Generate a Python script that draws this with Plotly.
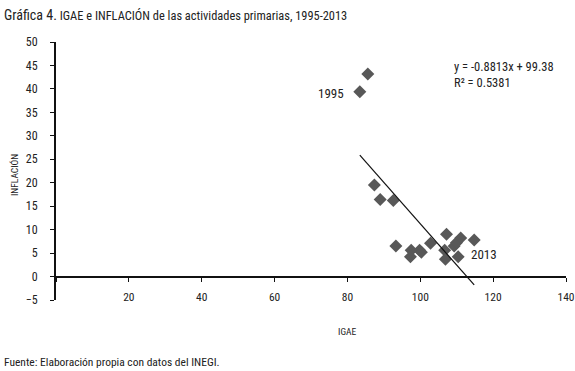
import plotly.graph_objects as go

igae = [83.4, 85.6, 87.4, 89.0, 92.6, 93.3, 97.5, 97.3, 99.8, 100.3,
        102.8, 107.2, 106.7, 106.9, 109.3, 109.9, 111.1, 110.4, 114.8]
inflacion = [39.4, 43.2, 19.5, 16.4, 16.2, 6.5, 5.6, 4.2, 5.6, 5.2,
             7.1, 9.0, 5.6, 3.7, 6.5, 7.2, 8.2, 4.2, 7.8]
slope, intercept, r2 = -0.8813, 99.38, 0.5381
x_ticks = [20, 40, 60, 80, 100, 120, 140]
y_ticks = [-5, 0, 5, 10, 15, 20, 25, 30, 35, 40, 45, 50]

FONT = "Roboto Condensed, Liberation Sans Narrow, Roboto, sans-serif"
INK = "#222222"

PL, PT, PW, PH = 56, 42, 510, 258   # plot area in page pixels
W, H = 575, 371


def px(xp):
    return (xp - PL) / PW


def py(yp):
    return (PT + PH - yp) / PH


x_lo, x_hi = min(igae), max(igae)
trend_x = [x_lo, x_hi]
trend_y = [slope * v + intercept for v in trend_x]

fig = go.Figure()
fig.add_trace(go.Scatter(x=igae, y=inflacion, mode="markers",
                         marker=dict(symbol="diamond", size=10, color="#585858"),
                         showlegend=False, hoverinfo="x+y"))
fig.add_trace(go.Scatter(x=trend_x, y=trend_y, mode="lines",
                         line=dict(color="#111111", width=1.2),
                         showlegend=False, hoverinfo="skip"))
fig.add_trace(go.Scatter(x=[x_lo], y=[0], xaxis="x2", mode="markers",
                         marker=dict(opacity=0), showlegend=False,
                         hoverinfo="skip"))

fig.update_layout(
    width=W, height=H, autosize=False,
    margin=dict(l=PL, r=W - PL - PW, t=PT, b=H - PT - PH),
    paper_bgcolor="white", plot_bgcolor="white",
    font=dict(family=FONT, size=12, color=INK),
    xaxis=dict(range=[0, 140], tickvals=x_ticks, showline=False, ticks="",
               showgrid=False, zeroline=False, anchor="free", position=0.046,
               tickfont=dict(size=11.5), automargin=False,
               ticklabeloverflow="allow"),
    xaxis2=dict(range=[0, 140], overlaying="x", tickvals=[0] + x_ticks,
                showticklabels=False, showline=True, linecolor="#111111",
                linewidth=2, ticks="outside", ticklen=4, tickcolor="#111111",
                showgrid=False, zeroline=False, anchor="free",
                position=5 / 55, automargin=False),
    yaxis=dict(range=[-5, 50], tickvals=y_ticks, showline=True,
               linecolor="#111111", linewidth=2, ticks="outside", ticklen=4,
               tickcolor="#111111", showgrid=False, zeroline=False,
               ticklabelstandoff=10, tickfont=dict(size=12), automargin=False),
)

fig.add_annotation(xref="paper", yref="paper", x=px(2), y=py(15),
                   xanchor="left", yanchor="middle", showarrow=False,
                   text="<span style='font-size:14px'>Gráfica 4.</span> IGAE e INFLACIÓN de las actividades primarias, 1995-2013",
                   font=dict(size=12.4, color=INK))
fig.add_annotation(x=igae[0], y=inflacion[0], xanchor="right", yanchor="middle",
                   xshift=-14, yshift=-2, showarrow=False, text="1995",
                   font=dict(size=13))
fig.add_annotation(x=igae[-1], y=4.6, xanchor="left", yanchor="middle",
                   xshift=-5, showarrow=False, text="2013", font=dict(size=13))
fig.add_annotation(xref="paper", yref="paper", x=px(452), y=py(57),
                   xanchor="left", yanchor="top", showarrow=False, align="left",
                   text=f"y = {slope}x + {intercept}<br>R² = {r2}",
                   font=dict(size=12.5))
fig.add_annotation(xref="paper", yref="paper", x=px(14), y=py(175),
                   xanchor="center", yanchor="middle",
                   textangle=-90, showarrow=False, text="INFLACIÓN",
                   font=dict(size=9.5))
fig.add_annotation(xref="paper", yref="paper", x=px(347), y=py(331),
                   xanchor="center", yanchor="middle",
                   showarrow=False, text="IGAE", font=dict(size=9.5))
fig.add_annotation(xref="paper", yref="paper", x=px(2), y=py(362),
                   xanchor="left", yanchor="middle", showarrow=False,
                   text="Fuente: Elaboración propia con datos del INEGI.",
                   font=dict(size=11.5))

fig.write_html(
    "out.html",
    config={"responsive": False, "displayModeBar": False},
    post_script="document.body.style.margin='0';document.body.style.overflow='hidden';",
)
